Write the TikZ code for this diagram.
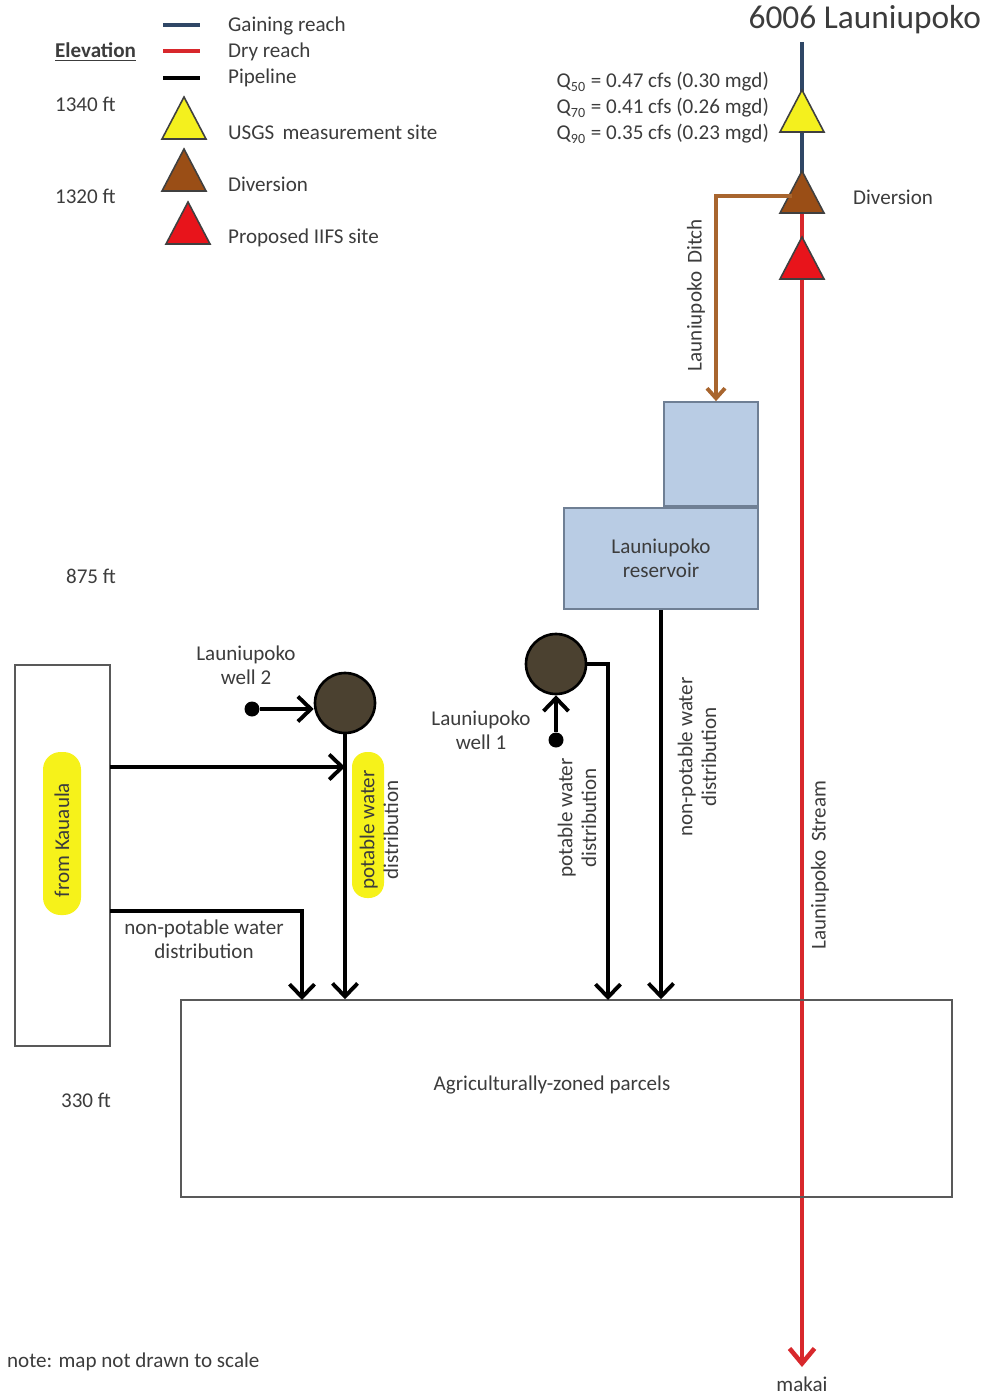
\documentclass[tikz,border=0pt]{standalone}
\usepackage{fontspec}
\setmainfont{Carlito}
\usetikzlibrary{arrows.meta}
\definecolor{gaining}{HTML}{2F4766}
\definecolor{dryred}{HTML}{D8282C}
\definecolor{divbrown}{HTML}{9A4E16}
\definecolor{ditchbrown}{HTML}{A8652E}
\definecolor{iifsred}{HTML}{E8141B}
\definecolor{usgsyellow}{HTML}{F4F01E}
\definecolor{wellfill}{HTML}{4B4130}
\definecolor{resfill}{HTML}{B9CCE4}
\definecolor{resline}{HTML}{6F7F94}
\definecolor{txtgray}{HTML}{3C3C3C}
\definecolor{hl}{HTML}{F6F21A}
\tikzset{
  lbl/.style={font=\fontsize{12}{13.5}\selectfont, text=txtgray, align=center, inner sep=1pt},
  pipe/.style={line width=2.2pt, -{Straight Barb[length=2.6mm,width=5mm]}},
  ditch/.style={ditchbrown, line width=2.2pt, -{Straight Barb[length=2mm,width=3.6mm]}},
  well/.style={circle, draw=black, line width=1.5pt, fill=wellfill, minimum size=1.2cm, inner sep=0pt},
  wdot/.style={circle, fill=black, minimum size=0.3cm, inner sep=0pt},
  box/.style={draw=black!65, line width=0.9pt},
  resbox/.style={draw=resline, line width=1pt, fill=resfill},
  pics/site/.style={code={\draw[fill=#1, draw=black!75, line width=0.9pt] (0,0) -- (22,42) -- (-22,42) -- cycle;}}
}
\begin{document}
\begin{tikzpicture}[x=0.02cm, y=-0.02cm]
  \useasboundingbox (0,0) rectangle (985,1395);

  % legend
  \draw[gaining, line width=2.6pt] (163,25) -- (200,25);
  \draw[dryred, line width=2.6pt] (163,51) -- (200,51);
  \draw[black, line width=2.6pt] (163,78) -- (200,78);
  \node[lbl, anchor=west] (leggain) at (226,26) {Gaining reach};
  \node[lbl, anchor=west] (legdry) at (226,52) {Dry reach};
  \node[lbl, anchor=west] (legpipe) at (226,78) {Pipeline};
  \pic at (184,97) {site=usgsyellow};
  \pic at (184,149) {site=divbrown};
  \pic at (188,202) {site=iifsred};
  \node[lbl, anchor=west] (legusgs) at (226,132) {USGS\, measurement site};
  \node[lbl, anchor=west] (legdiv) at (226,184) {Diversion};
  \node[lbl, anchor=west] (legiifs) at (226,238) {Proposed IIFS site};

  % elevations
  \node[lbl, anchor=west] (elev) at (53,52) {\underline{\textbf{Elevation}}};
  \node[lbl, anchor=west] (e1340) at (53,104) {1340 ft};
  \node[lbl, anchor=west] (e1320) at (53,196) {1320 ft};
  \node[lbl, anchor=west] (e875) at (64,576) {875 ft};
  \node[lbl, anchor=west] (e330) at (59,1100) {330 ft};

  % stream
  \coordinate (top) at (802,42);
  \coordinate (divpt) at (802,196);
  \coordinate (dry) at (802,212);
  \coordinate (makaipt) at (802,1367);
  \draw[gaining, line width=2.6pt] (top) -- (dry);
  \draw[dryred, line width=2.6pt, -{Straight Barb[length=3mm,width=5mm]}] (dry) -- (makaipt);
  \pic at (802,90) {site=usgsyellow};
  \pic at (802,171) {site=divbrown};
  \pic at (802,237) {site=iifsred};
  \node[lbl, font=\fontsize{19}{22}\selectfont, anchor=east] (gage) at (983,20) {6006 Launiupoko};
  \node[lbl, anchor=east] (q50) at (771,82) {Q\textsubscript{50} = 0.47 cfs (0.30 mgd)};
  \node[lbl, anchor=east] (q70) at (771,108) {Q\textsubscript{70} = 0.41 cfs (0.26 mgd)};
  \node[lbl, anchor=east] (q90) at (771,134) {Q\textsubscript{90} = 0.35 cfs (0.23 mgd)};
  \node[lbl, anchor=west] (divlbl) at (851,197) {Diversion};
  \node[lbl, rotate=90] (streamlbl) at (820,865) {Launiupoko\, Stream};
  \node[lbl] (makai) at (802,1384) {makai};

  % reservoir
  \node[resbox, minimum width=1.88cm, minimum height=2.08cm] (resup) at (711,454) {};
  \node[resbox, lbl, minimum width=3.88cm, minimum height=2.02cm] (resbig) at (661,558.5) {Launiupoko\\reservoir};
  \draw[ditch] ([xshift=-0.2cm]divpt) -| ([xshift=0.1cm]resup.north);
  \node[lbl, rotate=90] (ditchlbl) at (696,295) {Launiupoko\, Ditch};

  % parcels and Kauaula
  \node[box, minimum width=15.42cm, minimum height=3.94cm] (ag) at (566.5,1098.5) {};
  \node[lbl] (aglbl) at (552,1085) {Agriculturally-zoned parcels};
  \node[box, minimum width=1.9cm, minimum height=7.62cm] (kauaula) at (62.5,855.5) {};
  \fill[hl, rounded corners=0.35cm] (43,752) rectangle (81,915);
  \node[lbl, rotate=90] (kaulbl) at (62,840) {from Kauaula};

  % wells
  \node[well] (w2) at (345,703) {};
  \node[wdot] (d2) at (252,709) {};
  \node[lbl] (w2lbl) at (246,665) {Launiupoko\\well 2};
  \node[well] (w1) at (556,664) {};
  \node[wdot] (d1) at (556,740) {};
  \node[lbl] (w1lbl) at (481,730) {Launiupoko\\well 1};

  % pipelines
  \coordinate (k1) at (110,767);
  \coordinate (k2) at (110,911);
  \coordinate (np) at (302,1000);
  \coordinate (p1) at (608,1000);
  \draw[pipe] (d2) -- (d2 -| w2.west);
  \draw[pipe] (d1) -- (w1.south);
  \draw[pipe] (k1) -- (k1 -| w2);
  \draw[pipe] (k2) -| (np);
  \draw[pipe] (w2.south) -- (w2.south |- ag.north);
  \draw[pipe] (w1.east) -| (p1);
  \draw[pipe] (resbig.south) -- (resbig.south |- ag.north);

  % pipe labels
  \node[lbl] (npleft) at (204,939) {non-potable water\\distribution};
  \fill[hl, rounded corners=0.3cm] (352,752) rectangle (384,898);
  \node[lbl, rotate=90] (pot2) at (379,830) {potable water\\distribution};
  \node[lbl, rotate=90] (pot1) at (577,818) {potable water\\distribution};
  \node[lbl, rotate=90] (npres) at (697,757) {non-potable water\\distribution};

  \node[lbl, anchor=west] (note) at (5,1362) {note: map not drawn to scale};
\end{tikzpicture}
\end{document}
